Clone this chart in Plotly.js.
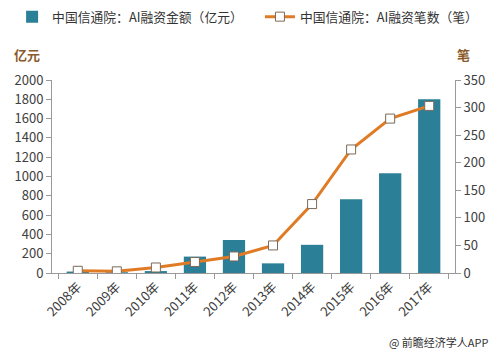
<!DOCTYPE html>
<html><head><meta charset="utf-8">
<script src="https://cdn.plot.ly/plotly-3.0.1.min.js"></script>
<style>html,body{margin:0;padding:0;background:#fff}#c{width:499px;height:354px}</style>
</head><body><div id="c"></div>
<script>
const years = ["2008年","2009年","2010年","2011年","2012年","2013年","2014年","2015年","2016年","2017年"];
const amount = [15, 8, 20, 170, 342, 100, 292, 764, 1033, 1800];
const deals = [4, 3, 10, 20, 30, 50, 125, 224, 280, 303];
const amountName = "中国信通院：AI融资金额（亿元）";
const dealsName = "中国信通院：AI融资笔数（笔）";
const font = "'Noto Sans CJK SC', sans-serif";

const traces = [
  {type:"bar", x:years, y:amount, name:amountName, marker:{color:"#2B7F96"}, width:0.57, yaxis:"y", legend:"legend"},
  {type:"scatter", mode:"lines+markers", x:years, y:deals, name:dealsName, yaxis:"y2", legend:"legend2",
   line:{color:"#E07B25", width:3},
   marker:{symbol:"square", size:9, color:"#FFFFFF", line:{color:"#7A6A5A", width:1}}}
];
const legBase = {orientation:"h", xref:"paper", yref:"paper", xanchor:"left", yanchor:"top",
    font:{size:12.8, color:"#333", family:font}, itemwidth:30, bgcolor:"rgba(0,0,0,0)"};
const layout = {
  width:499, height:354,
  margin:{l:52, r:44, t:80, b:81, autoexpand:false},
  paper_bgcolor:"#fff", plot_bgcolor:"#fff",
  font:{family:font, size:12, color:"#404040"},
  showlegend:true,
  legend:Object.assign({}, legBase, {x:-0.099, y:1.405}),
  legend2:Object.assign({}, legBase, {x:0.516, y:1.405}),
  xaxis:{type:"category", tickangle:-45, showline:true, linecolor:"#999", ticks:"outside",
    tickson:"boundaries", ticklen:5, tickcolor:"#999", showgrid:false, tickfont:{size:13, color:"#404040"}},
  yaxis:{range:[0,2000], dtick:200, showline:true, linecolor:"#999", ticks:"outside", ticklen:5,
    tickcolor:"#999", showgrid:false, zeroline:false, tickfont:{size:13, color:"#404040"}},
  yaxis2:{range:[0,350], dtick:50, overlaying:"y", side:"right", showline:true, linecolor:"#999",
    ticks:"outside", ticklen:5, tickcolor:"#999", showgrid:false, zeroline:false, tickfont:{size:13, color:"#404040"}},
  annotations:[
    {text:"<b>亿元</b>", xref:"paper", yref:"paper", x:-0.1, y:1.13, xanchor:"left", yanchor:"middle", showarrow:false,
     font:{size:13, color:"#8B5A2B", family:font}},
    {text:"<b>笔</b>", xref:"paper", yref:"paper", x:1.0, y:1.13, xanchor:"left", yanchor:"middle", showarrow:false,
     font:{size:13, color:"#8B5A2B", family:font}},
    {text:"@ 前瞻经济学人APP", xref:"paper", yref:"paper", x:1.09, y:-0.355, xanchor:"right", yanchor:"middle", showarrow:false,
     font:{size:11, color:"#333", family:font}}
  ]
};
Plotly.newPlot("c", traces, layout, {displayModeBar:false, staticPlot:true});
</script></body></html>
